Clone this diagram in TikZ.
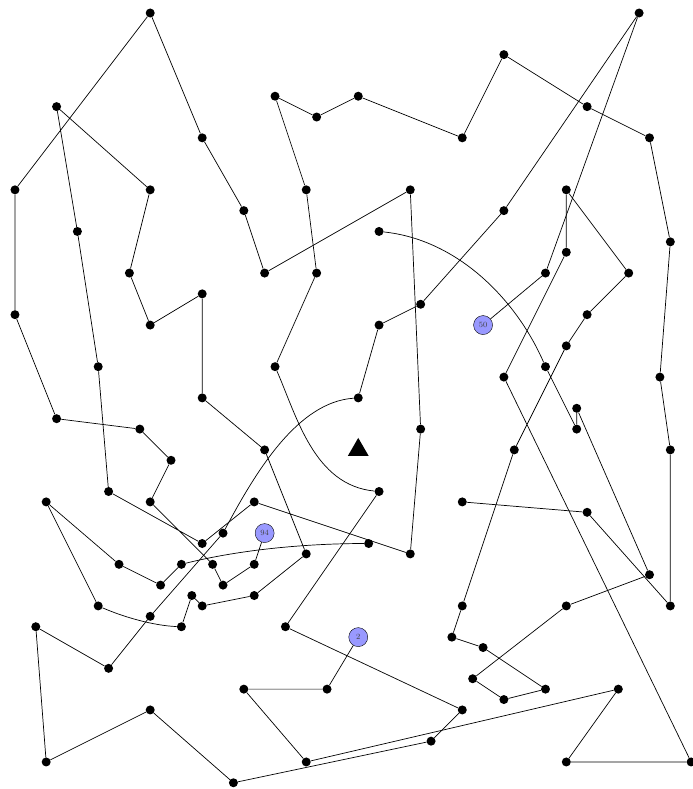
\documentclass[tikz,border=0pt]{standalone}
\usetikzlibrary{shapes.geometric}
\begin{document}
\begin{tikzpicture}[x=10.4pt,y=-10.4pt]

    \tikzset{
      city/.style={
        circle,
        fill=black,
        inner sep=0pt,
        minimum size=9pt,
      },
      start/.style={
        circle,
        draw=black,
        fill=blue!40,
        inner sep=0pt,
        minimum size=19pt,
        font=\footnotesize,
        text=black!75,
      },
      route/.style={
        color={black},
        line width=0.7pt,
      },
    }

	\useasboundingbox (-1.44,-1.25) rectangle (65.1,74.6);
	\node[regular polygon,regular polygon sides=3,fill=black,inner sep=0pt,minimum size=24pt] (depot) at (33,42) {};
	\node[city] (c1) at (13,0) {};
	\node[city] (c2) at (4,9) {};
	\node[city] (c3) at (18,12) {};
	\node[city] (c4) at (0,17) {};
	\node[city] (c5) at (13,17) {};
	\node[city] (c6) at (6,21) {};
	\node[city] (c7) at (25,8) {};
	\node[city] (c8) at (29,10) {};
	\node[city] (c9) at (33,8) {};
	\node[city] (c10) at (43,12) {};
	\node[city] (c11) at (22,19) {};
	\node[city] (c12) at (28,17) {};
	\node[city] (c13) at (38,17) {};
	\node[city] (c14) at (35,21) {};
	\node[city] (c15) at (60,0) {};
	\node[city] (c16) at (47,4) {};
	\node[city] (c17) at (55,9) {};
	\node[city] (c18) at (61,12) {};
	\node[city] (c19) at (53,17) {};
	\node[city] (c20) at (47,19) {};
	\node[city] (c21) at (53,23) {};
	\node[city] (c22) at (63,22) {};
	\node[city] (c23) at (11,25) {};
	\node[city] (c24) at (18,27) {};
	\node[city] (c25) at (0,29) {};
	\node[city] (c26) at (13,30) {};
	\node[city] (c27) at (8,34) {};
	\node[city] (c28) at (18,37) {};
	\node[city] (c29) at (4,39) {};
	\node[city] (c30) at (12,40) {};
	\node[city] (c31) at (15,43) {};
	\node[city] (c32) at (9,46) {};
	\node[city] (c33) at (3,47) {};
	\node[city] (c34) at (13,47) {};
	\node[city] (c35) at (24,25) {};
	\node[city] (c36) at (29,25) {};
	\node[city] (c37) at (39,28) {};
	\node[city] (c38) at (35,30) {};
	\node[city] (c39) at (25,34) {};
	\node[city] (c40) at (33,37) {};
	\node[city] (c41) at (39,40) {};
	\node[city] (c42) at (24,42) {};
	\node[city] (c43) at (35,46) {};
	\node[city] (c44) at (23,47) {};
	\node[city] (c45) at (43,47) {};
	\node[city] (c46) at (51,25) {};
	\node[city] (c47) at (59,25) {};
	\node[start] (c48) at (45,30) {50};
	\node[city] (c49) at (55,29) {};
	\node[city] (c50) at (53,32) {};
	\node[city] (c51) at (51,34) {};
	\node[city] (c52) at (47,35) {};
	\node[city] (c53) at (62,35) {};
	\node[city] (c54) at (54,38) {};
	\node[city] (c55) at (54,40) {};
	\node[city] (c56) at (48,42) {};
	\node[city] (c57) at (63,42) {};
	\node[city] (c58) at (55,48) {};
	\node[city] (c59) at (18,51) {};
	\node[city] (c60) at (20,50) {};
	\node[start] (c61) at (24,50) {94};
	\node[city] (c62) at (10,53) {};
	\node[city] (c63) at (16,53) {};
	\node[city] (c64) at (19,53) {};
	\node[city] (c65) at (14,55) {};
	\node[city] (c66) at (20,55) {};
	\node[city] (c67) at (17,56) {};
	\node[city] (c68) at (18,57) {};
	\node[city] (c69) at (8,57) {};
	\node[city] (c70) at (13,58) {};
	\node[city] (c71) at (16,59) {};
	\node[city] (c72) at (34,51) {};
	\node[city] (c73) at (38,52) {};
	\node[city] (c74) at (28,52) {};
	\node[city] (c75) at (23,53) {};
	\node[city] (c76) at (23,56) {};
	\node[city] (c77) at (26,59) {};
	\node[start] (c78) at (33,60) {2};
	\node[city] (c79) at (22,65) {};
	\node[city] (c80) at (30,65) {};
	\node[city] (c81) at (43,67) {};
	\node[city] (c82) at (40,70) {};
	\node[city] (c83) at (28,72) {};
	\node[city] (c84) at (21,74) {};
	\node[city] (c85) at (2,59) {};
	\node[city] (c86) at (9,63) {};
	\node[city] (c87) at (13,67) {};
	\node[city] (c88) at (3,72) {};
	\node[city] (c89) at (61,54) {};
	\node[city] (c90) at (63,57) {};
	\node[city] (c91) at (53,57) {};
	\node[city] (c92) at (43,57) {};
	\node[city] (c93) at (42,60) {};
	\node[city] (c94) at (45,61) {};
	\node[city] (c95) at (44,64) {};
	\node[city] (c96) at (47,66) {};
	\node[city] (c97) at (51,65) {};
	\node[city] (c98) at (58,65) {};
	\node[city] (c99) at (53,72) {};
	\node[city] (c100) at (65,72) {};

	\draw[route] (c61) -- (c75) -- (c66) -- (c64) -- (c34) -- (c31) -- (c30) -- (c29) -- (c25) -- (c4) -- (c1) -- (c3) -- (c11) -- (c35) -- (c13) -- (c41) -- (c73) -- (c44) -- (c59) -- (c32) -- (c27) -- (c6) -- (c2) -- (c5) -- (c23) -- (c26) -- (c24) -- (c28) -- (c42) -- (c74) -- (c76) -- (c68) -- (c67) -- (c71) .. controls +(-2.7,-0.1) and +(2.4,1.05) .. (c69) -- (c33) -- (c62) -- (c65) -- (c63) .. controls +(5.8,-1.45) and +(-5.8,0) .. (c72);
	\draw[route] (c48) -- (c46) -- (c15) -- (c20) -- (c37) -- (c38) -- (c40) .. controls +(-5.8,0.4) and +(3.2,-6) .. (c60) -- (c70) -- (c86) -- (c85) -- (c88) -- (c87) -- (c84) -- (c82) -- (c81) -- (c77) -- (c43) .. controls +(-6.25,-0.6) and +(2.1,4.8) .. (c39) -- (c36) -- (c12) -- (c7) -- (c8) -- (c9) -- (c10) -- (c16) -- (c17) -- (c18) -- (c22) -- (c53) -- (c57) -- (c90) -- (c58) -- (c45);
	\draw[route] (c78) -- (c80) -- (c79) -- (c83) -- (c98) -- (c99) -- (c100) -- (c52) -- (c21) -- (c19) -- (c47) -- (c49) -- (c50) -- (c56) -- (c92) -- (c93) -- (c94) -- (c97) -- (c96) -- (c95) -- (c91) -- (c89) -- (c54) -- (c55) -- (c51) .. controls +(-2.7,-6.25) and +(7.7,0.8) .. (c14);

\end{tikzpicture}
\end{document}
